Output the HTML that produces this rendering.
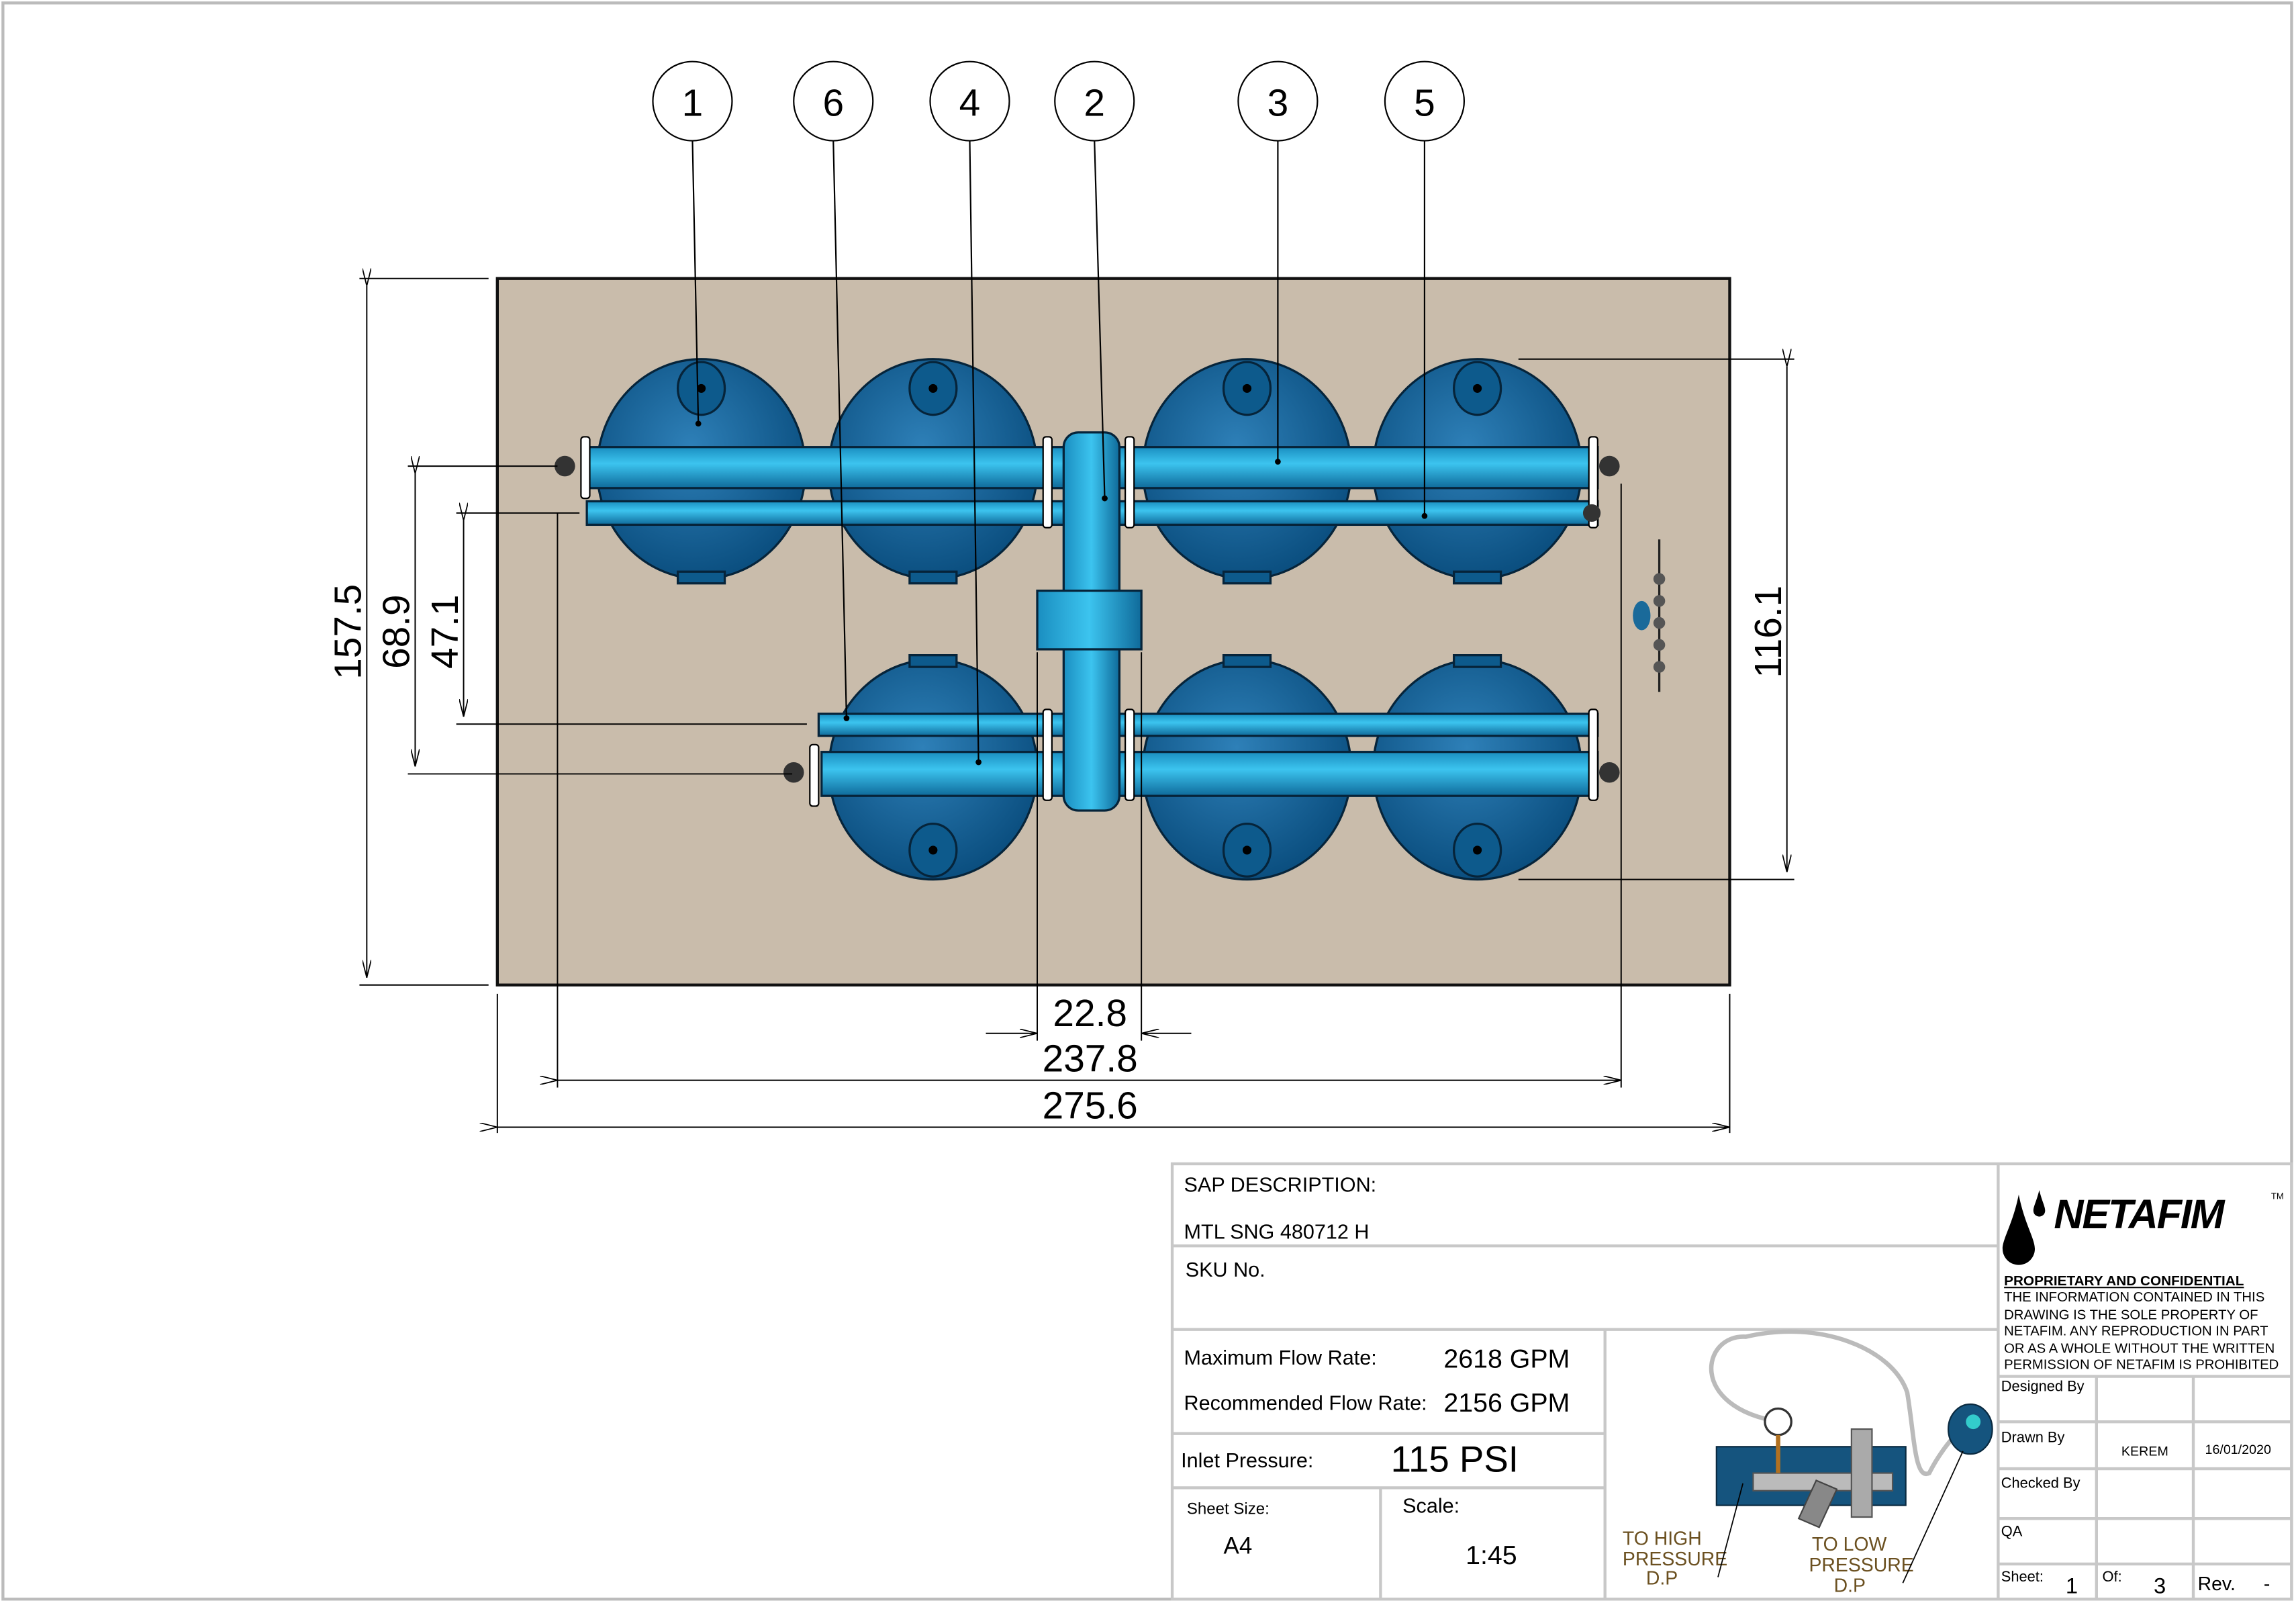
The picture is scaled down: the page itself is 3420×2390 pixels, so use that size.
<!DOCTYPE html>
<html><head><meta charset="utf-8"><style>html,body{margin:0;padding:0;background:#fff}svg{display:block}text{font-family:"Liberation Sans",sans-serif}</style></head><body>
<svg width="3420" height="2390" viewBox="0 0 1565 1095" preserveAspectRatio="none" xmlns="http://www.w3.org/2000/svg">
<defs>
<radialGradient id="tk" cx="0.45" cy="0.4" r="0.6"><stop offset="0" stop-color="#2e80b8"/><stop offset="1" stop-color="#0b4f80"/></radialGradient>
<linearGradient id="pp" x1="0" y1="0" x2="0" y2="1"><stop offset="0" stop-color="#1a8ec0"/><stop offset="0.4" stop-color="#3cc4ef"/><stop offset="1" stop-color="#0f6a9a"/></linearGradient>
<linearGradient id="pv" x1="0" y1="0" x2="1" y2="0"><stop offset="0" stop-color="#1a8ec0"/><stop offset="0.5" stop-color="#3cc4ef"/><stop offset="1" stop-color="#0f6a9a"/></linearGradient>
<marker id="ar" markerWidth="12" markerHeight="6" refX="12" refY="3" orient="auto" markerUnits="userSpaceOnUse"><path d="M0,0 L12,3 L0,6" fill="none" stroke="#000" stroke-width="0.8"/></marker>
</defs>
<rect x="2" y="2" width="1560" height="1089" fill="#fff" stroke="#bbb" stroke-width="2"/>
<rect x="339" y="190" width="840" height="482" fill="#c9bcab" stroke="#111" stroke-width="2"/>
<g stroke="#06243a" stroke-width="1.5" fill="url(#tk)">
<ellipse cx="478" cy="320" rx="71" ry="75"/><ellipse cx="636" cy="320" rx="71" ry="75"/><ellipse cx="850" cy="320" rx="71" ry="75"/><ellipse cx="1007" cy="320" rx="71" ry="75"/>
<ellipse cx="636" cy="525" rx="71" ry="75"/><ellipse cx="850" cy="525" rx="71" ry="75"/><ellipse cx="1007" cy="525" rx="71" ry="75"/>
</g>
<g fill="#0d5a8c" stroke="#06243a" stroke-width="1.5">
<ellipse cx="478" cy="265" rx="16" ry="18"/><ellipse cx="636" cy="265" rx="16" ry="18"/><ellipse cx="850" cy="265" rx="16" ry="18"/><ellipse cx="1007" cy="265" rx="16" ry="18"/>
<ellipse cx="636" cy="580" rx="16" ry="18"/><ellipse cx="850" cy="580" rx="16" ry="18"/><ellipse cx="1007" cy="580" rx="16" ry="18"/>
<rect x="462" y="390" width="32" height="8"/><rect x="620" y="390" width="32" height="8"/><rect x="834" y="390" width="32" height="8"/><rect x="991" y="390" width="32" height="8"/>
<rect x="620" y="447" width="32" height="8"/><rect x="834" y="447" width="32" height="8"/><rect x="991" y="447" width="32" height="8"/>
</g>
<g fill="#000"><circle cx="478" cy="265" r="3"/><circle cx="636" cy="265" r="3"/><circle cx="850" cy="265" r="3"/><circle cx="1007" cy="265" r="3"/><circle cx="636" cy="580" r="3"/><circle cx="850" cy="580" r="3"/><circle cx="1007" cy="580" r="3"/></g>
<g stroke="#06243a" stroke-width="1.5">
<rect x="398" y="305" width="328" height="28" fill="url(#pp)"/>
<rect x="763" y="305" width="326" height="28" fill="url(#pp)"/>
<rect x="400" y="342" width="326" height="16" fill="url(#pp)"/>
<rect x="763" y="342" width="326" height="16" fill="url(#pp)"/>
<rect x="558" y="487" width="168" height="15" fill="url(#pp)"/>
<rect x="763" y="487" width="326" height="15" fill="url(#pp)"/>
<rect x="560" y="513" width="166" height="30" fill="url(#pp)"/>
<rect x="763" y="513" width="326" height="30" fill="url(#pp)"/>
<rect x="725" y="295" width="38" height="258" rx="10" fill="url(#pv)"/>
<rect x="707" y="403" width="71" height="40" fill="url(#pv)"/>
</g>
<g fill="#fff" stroke="#000" stroke-width="1">
<rect x="396" y="298" width="6" height="42" rx="2"/><rect x="711" y="298" width="6" height="62" rx="2"/><rect x="767" y="298" width="6" height="62" rx="2"/><rect x="1083" y="298" width="6" height="62" rx="2"/>
<rect x="552" y="508" width="6" height="42" rx="2"/><rect x="711" y="484" width="6" height="62" rx="2"/><rect x="767" y="484" width="6" height="62" rx="2"/><rect x="1083" y="484" width="6" height="62" rx="2"/>
</g>
<g fill="#333"><circle cx="385" cy="318" r="7"/><circle cx="1097" cy="318" r="7"/><circle cx="541" cy="527" r="7"/><circle cx="1097" cy="527" r="7"/><circle cx="1085" cy="350" r="6"/></g>
<g stroke="#222" stroke-width="1.5"><line x1="1131" y1="368" x2="1131" y2="472"/></g>
<g fill="#555"><circle cx="1131" cy="395" r="4"/><circle cx="1131" cy="410" r="4"/><circle cx="1131" cy="425" r="4"/><circle cx="1131" cy="440" r="4"/><circle cx="1131" cy="455" r="4"/><ellipse cx="1119" cy="420" rx="6" ry="10" fill="#1a6a9a"/></g>
<g fill="#fff" stroke="#000" stroke-width="1">
<circle cx="472" cy="69" r="27"/><circle cx="568" cy="69" r="27"/><circle cx="661" cy="69" r="27"/><circle cx="746" cy="69" r="27"/><circle cx="871" cy="69" r="27"/><circle cx="971" cy="69" r="27"/>
</g>
<g font-size="26" text-anchor="middle" fill="#000">
<text x="472" y="79">1</text><text x="568" y="79">6</text><text x="661" y="79">4</text><text x="746" y="79">2</text><text x="871" y="79">3</text><text x="971" y="79">5</text>
</g>
<g stroke="#000" stroke-width="1">
<line x1="472" y1="96" x2="476" y2="289"/><line x1="568" y1="96" x2="577" y2="490"/><line x1="661" y1="96" x2="667" y2="520"/><line x1="746" y1="96" x2="753" y2="340"/><line x1="871" y1="96" x2="871" y2="315"/><line x1="971" y1="96" x2="971" y2="352"/>
</g>
<g fill="#000"><circle cx="476" cy="289" r="2"/><circle cx="577" cy="490" r="2"/><circle cx="667" cy="520" r="2"/><circle cx="753" cy="340" r="2"/><circle cx="871" cy="315" r="2"/><circle cx="971" cy="352" r="2"/></g>
<g stroke="#000" stroke-width="0.9" fill="none">
<line x1="245" y1="190" x2="333" y2="190"/><line x1="245" y1="672" x2="333" y2="672"/>
<line x1="250" y1="195" x2="250" y2="667" marker-start="url(#ar)" marker-end="url(#ar)"/>
<line x1="278" y1="318" x2="380" y2="318"/><line x1="278" y1="528" x2="540" y2="528"/>
<line x1="283" y1="323" x2="283" y2="523" marker-start="url(#ar)" marker-end="url(#ar)"/>
<line x1="311" y1="350" x2="395" y2="350"/><line x1="311" y1="494" x2="550" y2="494"/>
<line x1="316" y1="355" x2="316" y2="489" marker-start="url(#ar)" marker-end="url(#ar)"/>
<line x1="1035" y1="245" x2="1223" y2="245"/><line x1="1035" y1="600" x2="1223" y2="600"/>
<line x1="1218" y1="250" x2="1218" y2="595" marker-start="url(#ar)" marker-end="url(#ar)"/>
<line x1="707" y1="445" x2="707" y2="710"/><line x1="778" y1="445" x2="778" y2="710"/>
<line x1="672" y1="705" x2="707" y2="705" marker-end="url(#ar)"/><line x1="812" y1="705" x2="778" y2="705" marker-end="url(#ar)"/>
<line x1="380" y1="350" x2="380" y2="742"/><line x1="1105" y1="330" x2="1105" y2="742"/>
<line x1="380" y1="737" x2="1105" y2="737" marker-start="url(#ar)" marker-end="url(#ar)"/>
<line x1="339" y1="678" x2="339" y2="773"/><line x1="1179" y1="678" x2="1179" y2="773"/>
<line x1="339" y1="769" x2="1179" y2="769" marker-start="url(#ar)" marker-end="url(#ar)"/>
</g>
<g font-size="26" fill="#000" text-anchor="middle">
<text x="743" y="700">22.8</text><text x="743" y="731">237.8</text><text x="743" y="763">275.6</text>
<text transform="translate(246,431) rotate(-90)">157.5</text>
<text transform="translate(279,431) rotate(-90)">68.9</text>
<text transform="translate(312,431) rotate(-90)">47.1</text>
<text transform="translate(1214,431) rotate(-90)">116.1</text>
</g>
<g stroke="#c8c8c8" stroke-width="2" fill="none">
<rect x="799" y="794" width="763" height="297"/>
<line x1="1362" y1="794" x2="1362" y2="1091"/>
<line x1="799" y1="850" x2="1362" y2="850"/><line x1="799" y1="907" x2="1362" y2="907"/>
<line x1="1094" y1="907" x2="1094" y2="1091"/>
<line x1="799" y1="978" x2="1094" y2="978"/><line x1="799" y1="1015" x2="1094" y2="1015"/>
<line x1="941" y1="1015" x2="941" y2="1091"/>
<line x1="1362" y1="939" x2="1562" y2="939"/><line x1="1362" y1="970" x2="1562" y2="970"/><line x1="1362" y1="1002" x2="1562" y2="1002"/><line x1="1362" y1="1036" x2="1562" y2="1036"/><line x1="1362" y1="1067" x2="1562" y2="1067"/>
<line x1="1429" y1="939" x2="1429" y2="1091"/><line x1="1495" y1="939" x2="1495" y2="1091"/>
</g>
<g fill="#000">
<text x="807" y="813" font-size="14">SAP DESCRIPTION:</text>
<text x="807" y="845" font-size="14">MTL SNG 480712 H</text>
<text x="808" y="871" font-size="14">SKU No.</text>
<text x="807" y="931" font-size="14">Maximum Flow Rate:</text>
<text x="984" y="933" font-size="18">2618 GPM</text>
<text x="807" y="962" font-size="14">Recommended Flow Rate:</text>
<text x="984" y="963" font-size="18">2156 GPM</text>
<text x="805" y="1001" font-size="14">Inlet Pressure:</text>
<text x="948" y="1004" font-size="25">115 PSI</text>
<text x="809" y="1033" font-size="11">Sheet Size:</text>
<text x="834" y="1060" font-size="16">A4</text>
<text x="956" y="1032" font-size="14">Scale:</text>
<text x="999" y="1067" font-size="18">1:45</text>
<text x="1106" y="1054" font-size="13" fill="#6b5020">TO HIGH</text>
<text x="1106" y="1068" font-size="13" fill="#6b5020">PRESSURE</text>
<text x="1122" y="1081" font-size="13" fill="#6b5020">D.P</text>
<text x="1235" y="1058" font-size="13" fill="#6b5020">TO LOW</text>
<text x="1233" y="1072" font-size="13" fill="#6b5020">PRESSURE</text>
<text x="1250" y="1086" font-size="13" fill="#6b5020">D.P</text>
<text x="1400" y="838" font-size="28" font-weight="bold" font-style="italic" letter-spacing="-1">NETAFIM</text>
<text x="1548" y="818" font-size="6">TM</text>
<path d="M1376,815 C1372,835 1365,845 1365,852 A10,10 0 0 0 1387,852 C1387,845 1380,835 1376,815 Z"/>
<path d="M1390,812 C1388,820 1386,823 1386,826 A4,4 0 0 0 1394,826 C1394,823 1392,820 1390,812 Z"/>
<text x="1366" y="877" font-size="9.5" font-weight="bold" text-decoration="underline">PROPRIETARY AND CONFIDENTIAL</text>
<text x="1366" y="888" font-size="9.3">THE INFORMATION CONTAINED IN THIS</text>
<text x="1366" y="900" font-size="9.3">DRAWING IS THE SOLE PROPERTY OF</text>
<text x="1366" y="911" font-size="9.3">NETAFIM. ANY REPRODUCTION IN PART</text>
<text x="1366" y="923" font-size="9.3">OR AS A WHOLE WITHOUT THE WRITTEN</text>
<text x="1366" y="934" font-size="9.3">PERMISSION OF NETAFIM IS PROHIBITED</text>
<text x="1364" y="949" font-size="10">Designed By</text>
<text x="1364" y="984" font-size="10">Drawn By</text>
<text x="1446" y="993" font-size="9">KEREM</text>
<text x="1503" y="992" font-size="9">16/01/2020</text>
<text x="1364" y="1015" font-size="10">Checked By</text>
<text x="1364" y="1048" font-size="10">QA</text>
<text x="1364" y="1079" font-size="10">Sheet:</text>
<text x="1408" y="1087" font-size="15">1</text>
<text x="1433" y="1079" font-size="10">Of:</text>
<text x="1468" y="1087" font-size="15">3</text>
<text x="1498" y="1085" font-size="13">Rev.</text>
<text x="1543" y="1085" font-size="13">-</text>
</g>
<path d="M1213,970 C1150,960 1160,910 1190,912 C1240,900 1290,920 1300,950 C1305,980 1305,1010 1315,1005 C1320,995 1330,980 1338,975" fill="none" stroke="#bbb" stroke-width="3"/>
<rect x="1170" y="987" width="129" height="40" fill="#15547e" stroke="#0a2a40"/>
<rect x="1195" y="1005" width="95" height="12" fill="#bbb" stroke="#555"/>
<rect x="1262" y="975" width="14" height="60" fill="#aaa" stroke="#555"/>
<path d="M1238,1010 L1252,1016 L1240,1042 L1226,1036 Z" fill="#888" stroke="#444"/>
<circle cx="1212" cy="970" r="9" fill="#fff" stroke="#333" stroke-width="1.5"/>
<line x1="1212" y1="979" x2="1212" y2="1005" stroke="#b07020" stroke-width="3"/>
<ellipse cx="1343" cy="975" rx="15" ry="17" fill="#15547e" stroke="#0a2a40"/>
<circle cx="1345" cy="970" r="5" fill="#3cc"/>
<line x1="1188" y1="1012" x2="1171" y2="1076" stroke="#000" stroke-width="0.8"/>
<line x1="1338" y1="990" x2="1297" y2="1080" stroke="#000" stroke-width="0.8"/>
</svg>
</body></html>
